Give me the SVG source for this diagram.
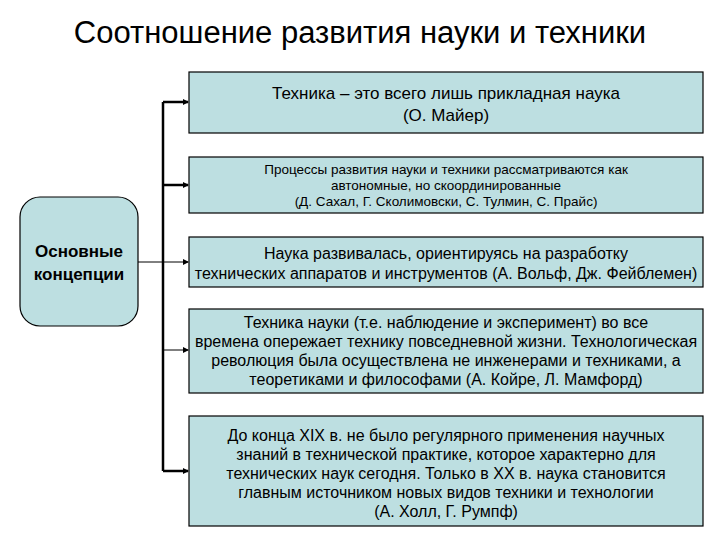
<svg xmlns="http://www.w3.org/2000/svg" width="720" height="540" viewBox="0 0 720 540">
<style>
.b{fill:#bddfe1;stroke:#000;stroke-width:1.2}
.t{font-family:"Liberation Sans",Arial,sans-serif;fill:#000;text-anchor:middle}
.c{stroke:#000;fill:none}
</style>
<defs><marker id="a" markerWidth="6" markerHeight="6" refX="5" refY="3" orient="auto" markerUnits="userSpaceOnUse"><path d="M0,0L6,3L0,6z" fill="#000"/></marker></defs>
<rect width="720" height="540" fill="#fff"/>
<text class="t" x="360" y="43" font-size="31">Соотношение развития науки и техники</text>
<g id="connectors">
<path class="c" stroke-width="2.5" d="M163,102V471"/>
<path class="c" stroke-width="2.5" d="M163,102H188" marker-end="url(#a)"/>
<path class="c" stroke-width="2.5" d="M163,185H188" marker-end="url(#a)"/>
<path class="c" stroke-width="1" d="M138,262H188" marker-end="url(#a)"/>
<path class="c" stroke-width="1" d="M163,350H188" marker-end="url(#a)"/>
<path class="c" stroke-width="2.5" d="M163,471H188" marker-end="url(#a)"/>
</g>
<g id="n0"><rect class="b" x="20" y="197" width="118" height="129" rx="20"/>
<text class="t" font-size="17" font-weight="bold"><tspan x="79" y="257">Основные</tspan><tspan x="79" y="280">концепции</tspan></text></g>
<g id="n1"><rect class="b" x="189" y="72" width="514" height="61"/>
<text class="t" font-size="17"><tspan x="446" y="99">Техника – это всего лишь прикладная наука</tspan><tspan x="446" y="121">(О. Майер)</tspan></text></g>
<g id="n2"><rect class="b" x="189" y="157" width="514" height="56"/>
<text class="t" font-size="13.5"><tspan x="446" y="174">Процессы развития науки и техники рассматриваются как</tspan><tspan x="446" y="190">автономные, но скоординированные</tspan><tspan x="446" y="206">(Д. Сахал, Г. Сколимовски,  С. Тулмин, С. Прайс)</tspan></text></g>
<g id="n3"><rect class="b" x="189" y="237" width="514" height="50"/>
<text class="t" font-size="16"><tspan x="446" y="259">Наука развивалась, ориентируясь на разработку</tspan><tspan x="446" y="279">технических аппаратов и инструментов (А. Вольф, Дж. Фейблемен)</tspan></text></g>
<g id="n4"><rect class="b" x="189" y="309" width="514" height="84"/>
<text class="t" font-size="16"><tspan x="446" y="328">Техника науки (т.е. наблюдение и эксперимент) во все</tspan><tspan x="446" y="347">времена опережает технику повседневной жизни. Технологическая</tspan><tspan x="446" y="366">революция была осуществлена не инженерами и техниками, а</tspan><tspan x="446" y="385">теоретиками и философами (А. Койре, Л. Мамфорд)</tspan></text></g>
<g id="n5"><rect class="b" x="189" y="416" width="514" height="110"/>
<text class="t" font-size="16"><tspan x="446" y="441">До конца XIX в. не было регулярного применения научных</tspan><tspan x="446" y="460">знаний в технической практике, которое характерно для</tspan><tspan x="446" y="479">технических наук сегодня. Только в XX в. наука становится</tspan><tspan x="446" y="498">главным источником новых видов техники и технологии</tspan><tspan x="446" y="517">(А. Холл, Г. Румпф)</tspan></text></g>
</svg>
